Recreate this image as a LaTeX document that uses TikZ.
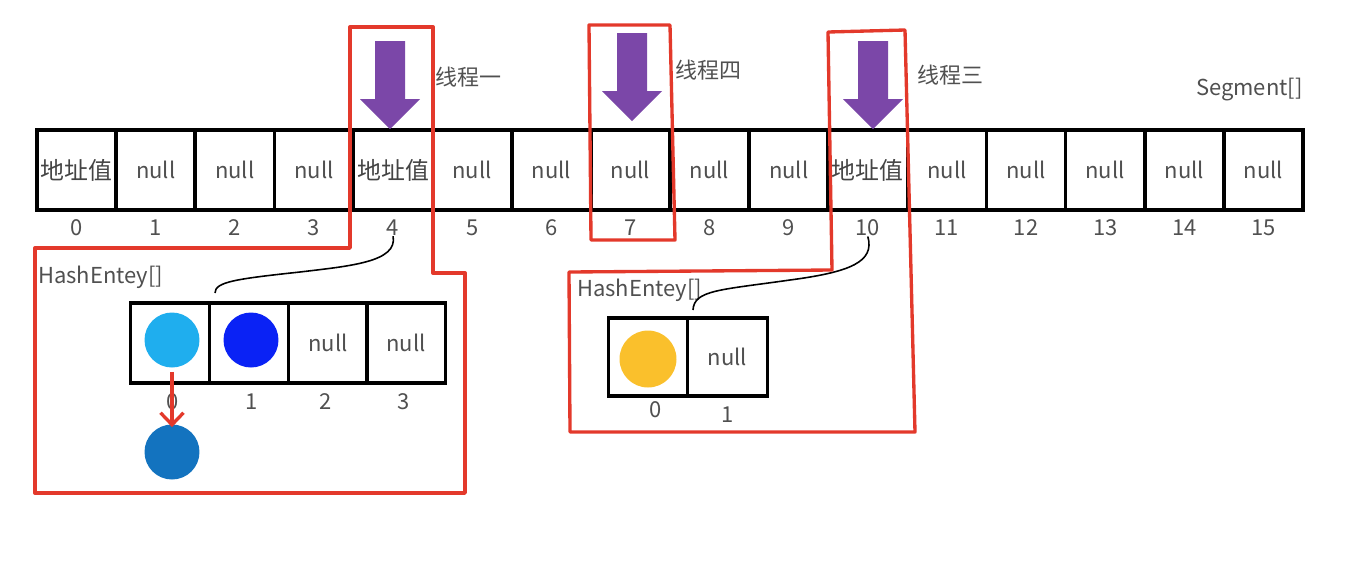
\documentclass[tikz,border=0pt]{standalone}
\usepackage{fontspec}
\setmainfont{Noto Sans CJK SC}
\usepackage{tikz}
\usepackage{xcolor}
\usetikzlibrary{arrows.meta}

\definecolor{roxo}{HTML}{7B47A8}
\definecolor{vermelho}{HTML}{E3392B}
\definecolor{ciano}{HTML}{1FAEEE}
\definecolor{azul}{HTML}{0A22F5}
\definecolor{azulescuro}{HTML}{1373BF}
\definecolor{amarelo}{HTML}{FAC02C}
\definecolor{texto}{HTML}{505050}

\tikzset{
  celula/.style={draw=black, line width=2pt, minimum width=1.5825cm, minimum height=1.6cm, inner sep=0pt, text=texto, font=\fontsize{12.5}{14}\selectfont},
  celpeq/.style={draw=black, line width=1.8pt, minimum width=1.57cm, minimum height=1.6cm, inner sep=0pt, text=texto, font=\fontsize{12.5}{14}\selectfont},
  indice/.style={inner sep=0pt, text=texto, font=\fontsize{12.5}{14}\selectfont},
  rotulo/.style={inner sep=0pt, text=texto, font=\fontsize{12.5}{14}\selectfont},
  bola/.style={circle, minimum size=1.1cm, inner sep=0pt},
  moldura/.style={draw=vermelho, line width=1.9pt, line join=round},
  curva/.style={draw=black, line width=0.9pt},
  encadeia/.style={draw=vermelho, line width=1.9pt, -{Straight Barb[length=2.4mm, width=4.6mm]}},
  seta/.pic={\fill[roxo] (-15,0) -- (15,0) -- (15,58) -- (30,58) -- (0,88) -- (-30,58) -- (-15,58) -- cycle;}
}
\newcommand{\valoraddr}{{\fontsize{13.6}{15}\selectfont\color{texto!85!black}地址值}}

\begin{document}
\begin{tikzpicture}[x=0.02cm, y=-0.02cm] %coordenadas em pixels, eixo y para baixo
\useasboundingbox (0,0) rectangle (1370,586);

%Cantos das molduras vermelhas, dados como (x/y/Nome)
\foreach \px/\py/\nome in {
350/27/A, 433/27/B, 433/273/C, 465/273/D, 465/493/E, 35/493/F, 35/248/G, 350/248/H,
589/25/I, 670/25/J, 675/240/K, 591/240/L,
828/32/M, 905/30/N, 915/432/O, 570/432/P, 569/272/Q, 832/270/R}
  \coordinate (\nome) at (\px,\py);

%Vetor Segment[] com 16 posicoes e os seus indices
%---------------------------------------------------
\foreach \i/\txt in {0/\valoraddr, 1/null, 2/null, 3/null, 4/\valoraddr, 5/null, 6/null, 7/null,
  8/null, 9/null, 10/\valoraddr, 11/null, 12/null, 13/null, 14/null, 15/null}{
  \node[celula] (s\i) at ({37+79.125*(\i+0.5)},170) {\txt};
  \node[indice] (n\i) at ({37+79.125*(\i+0.5)},228) {\i};
}
\node[rotulo, anchor=east] (seg) at (1303,90) {Segment[]};
%---------------------------------------------------

%Setas roxas das threads e os seus nomes
%---------------------------------------------------
\pic at (390,41) {seta};
\pic at (632,33) {seta};
\pic at (873,41) {seta};
\node[rotulo, anchor=west] (t1) at (435,77) {线程一};
\node[rotulo, anchor=west] (t4) at (675,70) {线程四};
\node[rotulo, anchor=west] (t3) at (917,75) {线程三};
%---------------------------------------------------

%Primeira tabela HashEntey[] (posicao 4), com lista ligada na posicao 0
%---------------------------------------------------
\node[rotulo, anchor=west] (he1) at (38,277) {HashEntey[]};
\foreach \i/\cx/\txt in {0/170/, 1/249/, 2/328/null, 3/406/null}{
  \node[celpeq] (h\i) at (\cx,343) {\txt};
}
\foreach \i/\cx in {0/173, 1/252, 2/326, 3/404}
  \node[indice] (m\i) at (\cx,402) {\i};
\node[bola, fill=ciano] (b0) at (172,340) {};
\node[bola, fill=azul] (b1) at (251,340) {};
\node[bola, fill=azulescuro] (b2) at (172,452) {};
\draw[encadeia] ([yshift=-0.08cm]b0.south) -- ([yshift=-0.06cm]b2.north);
%---------------------------------------------------

%Segunda tabela HashEntey[] (posicao 10)
%---------------------------------------------------
\node[rotulo, anchor=west] (he2) at (577,290) {HashEntey[]};
\node[celpeq, minimum height=1.56cm, minimum width=1.59cm] (k0) at (648,357) {};
\node[celpeq, minimum height=1.56cm, minimum width=1.59cm] (k1) at (727.5,357) {null};
\node[indice] (p0) at (656,410) {0};
\node[indice] (p1) at (728,415) {1};
\node[bola, fill=amarelo, minimum size=1.14cm] (b3) at (648,359) {};
%---------------------------------------------------

%Ligacoes do Segment[] para as tabelas
%---------------------------------------------------
\coordinate (f1) at (215,293);
\coordinate (f2) at (693,310);
\draw[curva] (n4.south) .. controls (398,262) and (350,266) .. (300,272) .. controls (235,279) and (215,282) .. (f1);
\draw[curva] (n10.south) .. controls (875,262) and (850,272) .. (790,280) .. controls (720,290) and (694,290) .. (f2);
%---------------------------------------------------

%Molduras vermelhas
%---------------------------------------------------
\draw[moldura] (A) -- (B) -- (C) -- (D) -- (E) -- (F) -- (G) -- (H) -- cycle;
\draw[moldura] (I) -- (J) -- (K) -- (L) -- cycle;
\draw[moldura] (M) -- (N) -- (O) -- (P) -- (Q) -- (R) -- cycle;
%---------------------------------------------------

\end{tikzpicture}
\end{document}
